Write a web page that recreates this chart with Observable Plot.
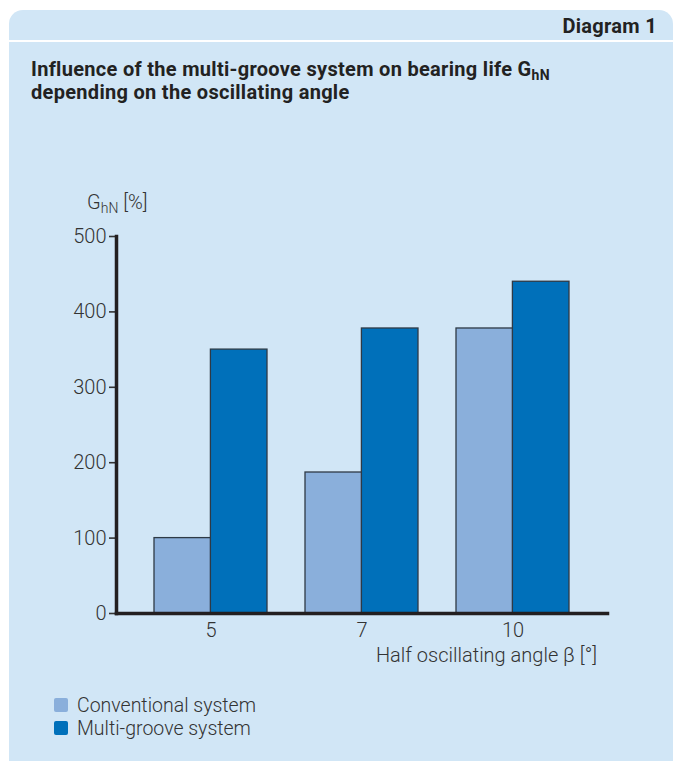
<!DOCTYPE html>
<html><head><meta charset="utf-8">
<script src="https://cdn.jsdelivr.net/npm/d3@7"></script>
<script src="https://cdn.jsdelivr.net/npm/@observablehq/plot@0.6"></script>
<style>
html,body{margin:0;padding:0;}
body{background:#fff;width:682px;height:761px;position:relative;overflow:hidden;font-family:Roboto,"Open Sans",sans-serif;color:#333;}
.hdr{position:absolute;left:9px;top:10px;width:664px;height:30px;background:#d1e6f6;border-radius:14px 14px 0 0;}
.hdr span{position:absolute;right:16px;top:4px;font-size:20px;font-weight:700;color:#222;line-height:24px;letter-spacing:0.3px;}
.body{position:absolute;left:9px;top:42px;width:664px;height:740px;background:#d1e6f6;}
.title{position:absolute;left:31px;top:58px;font-size:20px;font-weight:700;color:#222;line-height:23px;letter-spacing:0.3px;}
.title sub,.ylab sub{font-size:0.7em;vertical-align:-0.25em;line-height:0;}
.ylab{position:absolute;left:87px;top:191px;font-size:20px;font-weight:300;color:#333;line-height:22px;}
.xlab{position:absolute;right:85px;top:643px;font-size:20px;font-weight:300;color:#333;line-height:24px;}
#chart{position:absolute;left:0;top:220px;}
.legend{position:absolute;left:54px;top:694px;font-size:19.5px;font-weight:300;color:#333;}
.legend div{display:flex;align-items:center;height:22px;margin-bottom:1px;}
.legend i{display:inline-block;width:14px;height:14px;border-radius:2px;margin-right:9px;}
</style></head><body>
<div class="hdr"><span>Diagram 1</span></div>
<div class="body"></div>
<div class="title">Influence of the multi-groove system on bearing life G<sub>hN</sub><br>depending on the oscillating angle</div>
<div class="ylab">G<sub>hN</sub> [%]</div>
<div id="chart"></div>
<div class="xlab">Half oscillating angle β [°]</div>
<div class="legend" id="legend"></div>
<script>
const angles = ["5", "7", "10"];
const conventional = [100, 187, 378];
const multiGroove = [350, 378, 440];
const seriesNames = ["Conventional system", "Multi-groove system"];
const seriesColors = ["#8aafdb", "#0070ba"];
const yTicks = [0, 100, 200, 300, 400, 500];

const data = angles.flatMap((a, i) => [
  {angle: a, series: seriesNames[0], value: conventional[i]},
  {angle: a, series: seriesNames[1], value: multiGroove[i]}
]);

const chart = Plot.plot({
  width: 682,
  height: 430,
  marginLeft: 116,
  marginRight: 75,
  marginTop: 16,
  marginBottom: 37,
  style: {background: "transparent", fontFamily: "Roboto, sans-serif", fontSize: "20px", color: "#333", overflow: "visible"},
  x: {domain: angles, paddingInner: 0.254, paddingOuter: 0.25, label: null},
  y: {domain: [0, 500], label: null},
  color: {domain: seriesNames, range: seriesColors},
  marks: [
    Plot.barY(data.filter(d => d.series === seriesNames[0]), {x: "angle", y: "value", fill: "series", stroke: "#2e3a46", strokeWidth: 1.3, insetRight: 56.4}),
    Plot.barY(data.filter(d => d.series === seriesNames[1]), {x: "angle", y: "value", fill: "series", stroke: "#2e3a46", strokeWidth: 1.3, insetLeft: 56.4}),
    Plot.axisY({ticks: yTicks, tickSize: 7, tickPadding: 3, fontSize: 20, fontWeight: 300, strokeWidth: 1.6, label: null}),
    Plot.axisX({tickSize: 0, tickPadding: 9, fontSize: 20, fontWeight: 300, label: null}),
    Plot.frame({anchor: "left", stroke: "#231f20", strokeWidth: 3.5, strokeLinecap: "square"}),
    Plot.frame({anchor: "bottom", stroke: "#231f20", strokeWidth: 3.5, strokeLinecap: "square"})
  ]
});
document.getElementById("chart").appendChild(chart);

const lg = document.getElementById("legend");
seriesNames.forEach((n, i) => {
  const row = document.createElement("div");
  const sw = document.createElement("i");
  sw.style.background = seriesColors[i];
  row.appendChild(sw);
  row.appendChild(document.createTextNode(n));
  lg.appendChild(row);
});
</script>
</body></html>
